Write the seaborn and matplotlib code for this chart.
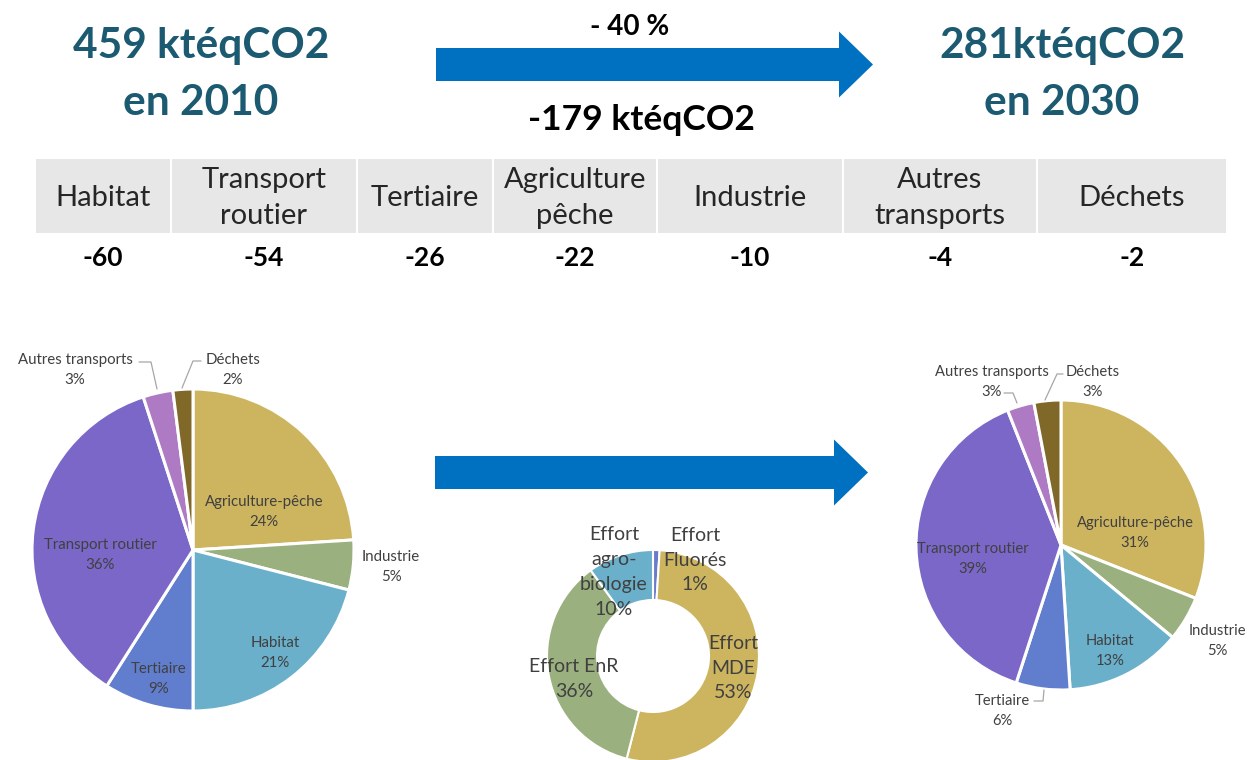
import matplotlib
matplotlib.use("Agg")
import matplotlib.pyplot as plt
from matplotlib.patches import FancyArrow, Rectangle
import seaborn as sns

# ---------------- data ----------------
total_2010 = 459
total_2030 = 281
reduction_pct = -40
reduction_abs = -179

sectors = ["Habitat", "Transport\nroutier", "Tertiaire", "Agriculture\npêche",
           "Industrie", "Autres\ntransports", "Déchets"]
sector_reduction = [-60, -54, -26, -22, -10, -4, -2]

pie_labels = ["Agriculture-pêche", "Industrie", "Habitat", "Tertiaire",
              "Transport routier", "Autres transports", "Déchets"]
share_2010 = [24, 5, 21, 9, 36, 3, 2]
share_2030 = [31, 5, 13, 6, 39, 3, 3]

effort_labels = ["Effort\nFluorés", "Effort\nMDE", "Effort EnR", "Effort\nagro-\nbiologie"]
effort_share = [1, 53, 36, 10]

# ---------------- style ----------------
sns.set_theme(style="white")
plt.rcParams["font.family"] = ["Lato", "DejaVu Sans"]

sector_colors = ["#CDB560", "#9BB07F", "#6AB0CA", "#607ECD", "#7A67C8", "#AF7AC4", "#806828"]
effort_colors = ["#6A7CC8", "#CDB560", "#9BB07F", "#6AB0CA"]
title_color = "#1B5A70"
arrow_color = "#0070C0"
label_color = "#404040"
leader_color = "#A6A6A6"

W, H = 1249, 760
fig = plt.figure(figsize=(W / 100, H / 100), dpi=100)
ax = fig.add_axes([0, 0, 1, 1])


def Y(y):
    """Convert a top-down pixel row into the axes' upward y coordinate."""
    return H - y


# ---------------- headline ----------------
ax.text(201, Y(46), f"{total_2010} ktéqCO2", ha="center", va="center",
        fontsize=30.5, fontweight="bold", color=title_color)
ax.text(201, Y(103), "en 2010", ha="center", va="center",
        fontsize=30.5, fontweight="bold", color=title_color)
ax.text(1062, Y(46), f"{total_2030}ktéqCO2", ha="center", va="center",
        fontsize=30.5, fontweight="bold", color=title_color)
ax.text(1062, Y(103), "en 2030", ha="center", va="center",
        fontsize=30.5, fontweight="bold", color=title_color)

ax.text(630, Y(27), f"- {abs(reduction_pct)} %", ha="center", va="center",
        fontsize=20, fontweight="bold", color="black")
ax.text(641, Y(120), f"{reduction_abs} ktéqCO2", ha="center", va="center",
        fontsize=25.5, fontweight="bold", color="black")

# arrows: (x_start, x_end, y_centre)
for x0, x1, yc in [(436, 873, 64.5), (435, 868, 472.5)]:
    ax.add_patch(FancyArrow(x0, Y(yc), x1 - x0, 0, width=33, head_width=66,
                            head_length=34, length_includes_head=True,
                            color=arrow_color, lw=0))

# ---------------- reduction table ----------------
col_edges = [35, 171, 357, 493, 657, 843, 1037, 1227]
for i, (name, red) in enumerate(zip(sectors, sector_reduction)):
    xl, xr = col_edges[i] + 1, col_edges[i + 1] - 1
    ax.add_patch(Rectangle((xl, Y(233)), xr - xl, 74, facecolor="#E7E7E7", lw=0))
    xc = (col_edges[i] + col_edges[i + 1]) / 2
    ax.text(xc, Y(198), name, ha="center", va="center", fontsize=21,
            color="#262626", linespacing=1.5)
    ax.text(xc, Y(258), f"{red}", ha="center", va="center", fontsize=19,
            fontweight="bold", color="black")

# ---------------- pies ----------------
def draw_pie(values, center, radius, label_pos, leaders, fs, ls):
    ax.pie(values, colors=sector_colors, startangle=90, counterclock=False,
           center=(center[0], Y(center[1])), radius=radius, frame=True,
           wedgeprops=dict(edgecolor="white", linewidth=2.2))
    for name, v in zip(pie_labels, values):
        x, y = label_pos[name]
        ax.text(x, Y(y), f"{name}\n{v}%", ha="center", va="center",
                fontsize=fs, color=label_color, linespacing=ls)
    for pts in leaders:
        ax.plot([p[0] for p in pts], [Y(p[1]) for p in pts],
                color=leader_color, lw=0.9)


left_pos = {
    "Agriculture-pêche": (264, 512), "Industrie": (391, 567),
    "Habitat": (275, 653), "Tertiaire": (159, 679),
    "Transport routier": (100, 555), "Autres transports": (75, 370),
    "Déchets": (233, 370),
}
left_leaders = [[(139, 362), (151, 362), (157, 389)],
                [(201, 361), (193, 361), (182, 388)]]
draw_pie(share_2010, (193, 550), 161, left_pos, left_leaders, 10.8, 1.6)

right_pos = {
    "Agriculture-pêche": (1135, 533), "Industrie": (1217, 641),
    "Habitat": (1110, 651), "Tertiaire": (1002, 711),
    "Transport routier": (973, 559), "Autres transports": (992, 382),
    "Déchets": (1093, 382),
}
right_leaders = [[(1004, 393), (1013, 393), (1017, 403)],
                 [(1063, 374), (1057, 374), (1045, 400)],
                 [(1034, 701), (1043, 701), (1044, 690)]]
draw_pie(share_2030, (1061, 545), 145, right_pos, right_leaders, 10.6, 1.5)

# ---------------- effort donut ----------------
ax.pie(effort_share, colors=effort_colors, startangle=90, counterclock=False,
       center=(653, Y(656)), radius=106, frame=True,
       wedgeprops=dict(width=50, edgecolor="white", linewidth=1.5))
effort_pos = [(695, 560), (733, 668), (574, 679), (614, 572)]
for name, v, (x, y) in zip(effort_labels, effort_share, effort_pos):
    ax.text(x, Y(y), f"{name}\n{v}%", ha="center", va="center", fontsize=14,
            color=label_color, linespacing=1.55)

ax.set_xlim(0, W)
ax.set_ylim(0, H)
ax.set_aspect("equal")
ax.axis("off")

fig.savefig("out.png", dpi=100, facecolor="white")
